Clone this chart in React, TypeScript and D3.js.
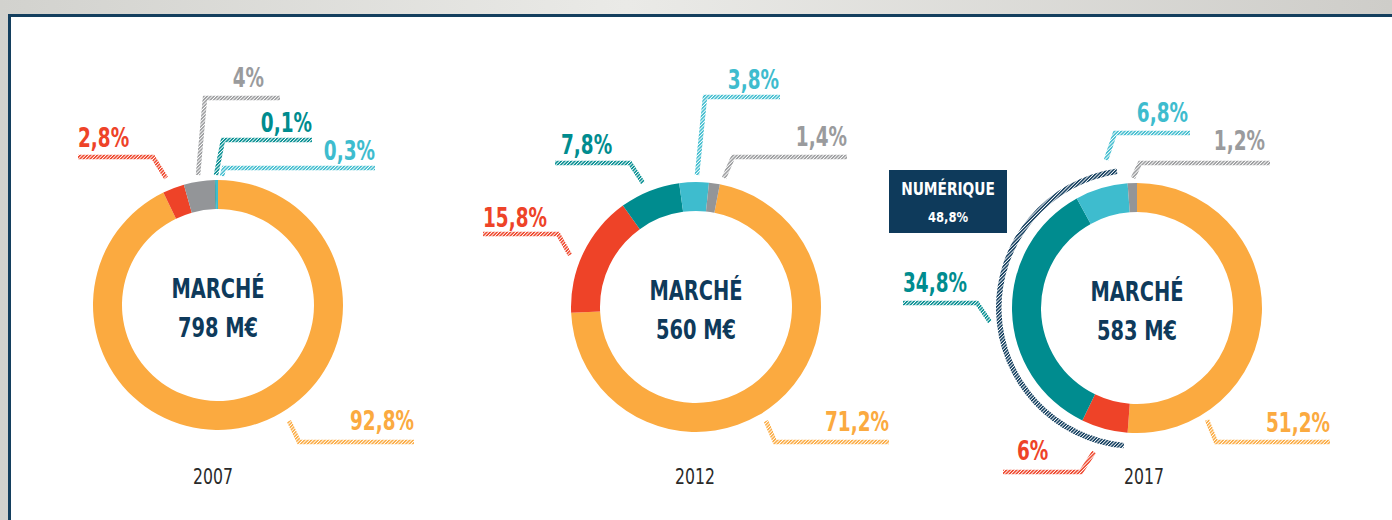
import React, { useEffect, useRef } from 'react';
import * as d3 from 'd3';

// chart data
const years = ['2007', '2012', '2017'];
const totals = ['798 M€', '560 M€', '583 M€'];
const categories = ['orange', 'red', 'teal', 'lightblue', 'gray'];
const values2007 = [92.8, 2.8, 0.1, 0.3, 4];
const values2012 = [71.2, 15.8, 7.8, 3.8, 1.4];
const values2017 = [51.2, 6, 34.8, 6.8, 1.2];
const sliceOrder2007 = ['orange', 'red', 'gray', 'teal', 'lightblue'];
const sliceOrder2012 = ['orange', 'red', 'teal', 'lightblue', 'gray'];
const sliceOrder2017 = ['orange', 'red', 'teal', 'lightblue', 'gray'];
const numeriqueLabel = 'NUMÉRIQUE';
const numeriqueValue = 48.8;

const colors: Record<string, string> = {
    orange: '#fbaa40',
    red: '#ee4328',
    teal: '#008c8f',
    lightblue: '#3ebcce',
    gray: '#939598',
};
const labelColors: Record<string, string> = { ...colors, gray: '#9a9b9d' };
const navy = '#0e3a5b';
const FONT = "'DejaVu Sans Condensed', 'DejaVu Sans', sans-serif";

// label layout, relative to each donut centre: tip, elbow, end of the leader, text position
type LabelPos = { tip: number[]; elbow: number[]; end: number; tx?: number; base: number };
const layouts: Record<string, LabelPos>[] = [
    {
        gray: { tip: [-20, -130], elbow: [-13, -207], end: 62, tx: 46, base: -218 },
        teal: { tip: [-2, -130], elbow: [5, -165], end: 94, base: -173 },
        lightblue: { tip: [4, -129], elbow: [6, -137], end: 157, base: -145 },
        red: { tip: [-52, -127], elbow: [-65, -148], end: -140, base: -158 },
        orange: { tip: [71, 116], elbow: [81, 137], end: 196, base: 125 },
    },
    {
        lightblue: { tip: [1, -132], elbow: [9, -210], end: 84, tx: 83, base: -218 },
        gray: { tip: [28, -129], elbow: [37, -150], end: 151, base: -161 },
        teal: { tip: [-53, -124], elbow: [-66, -144], end: -141, tx: -135, base: -153 },
        red: { tip: [-126, -52], elbow: [-138, -73], end: -213, base: -80 },
        orange: { tip: [70, 114], elbow: [79, 135], end: 193, base: 124 },
    },
    {
        lightblue: { tip: [-31, -148], elbow: [-22, -175], end: 53, tx: 51, base: -186 },
        gray: { tip: [-4, -130], elbow: [3, -145], end: 133, tx: 128, base: -158 },
        teal: { tip: [-147, 14], elbow: [-160, -5], end: -234, base: -16 },
        red: { tip: [-43, 144], elbow: [-56, 164], end: -134, tx: -120, base: 152 },
        orange: { tip: [70, 112], elbow: [79, 134], end: 193, base: 124 },
    },
];

const fmt = (v: number) => String(v).replace('.', ',') + '%';

function addText(g: any, x: number, y: number, str: string, o: any) {
    g.append('text')
        .attr('transform', `translate(${x},${y}) scale(${o.sx},1)`)
        .attr('text-anchor', o.anchor || 'middle')
        .attr('font-family', FONT)
        .attr('font-weight', o.weight || 'bold')
        .attr('font-size', o.size)
        .attr('fill', o.fill)
        .text(str);
}

export default function App() {
    const ref = useRef<SVGSVGElement>(null);

    useEffect(() => {
        const W = 1392;
        const H = 520;
        const svg = d3.select(ref.current);
        svg.selectAll('*').remove();

        const defs = svg.append('defs');
        const bg = defs.append('linearGradient').attr('id', 'bg');
        bg.append('stop').attr('offset', '0%').attr('stop-color', '#d2d2ce');
        bg.append('stop').attr('offset', '45%').attr('stop-color', '#eaeae7');
        bg.append('stop').attr('offset', '100%').attr('stop-color', '#cecdc9');

        // diagonal hatching used for the leader lines and the numérique bracket
        const hatchColors: Record<string, string> = { ...labelColors, navy };
        Object.entries(hatchColors).forEach(([k, c]) => {
            const p = defs
                .append('pattern')
                .attr('id', 'hatch-' + k)
                .attr('patternUnits', 'userSpaceOnUse')
                .attr('width', 2.4)
                .attr('height', 2.4)
                .attr('patternTransform', 'rotate(45)');
            p.append('rect').attr('width', 1.5).attr('height', 2.4).attr('fill', c);
        });

        svg.append('rect').attr('width', W).attr('height', H).attr('fill', 'url(#bg)');
        svg.append('rect')
            .attr('x', 9.5)
            .attr('y', 15.5)
            .attr('width', W + 20)
            .attr('height', H + 20)
            .attr('fill', '#fff')
            .attr('stroke', '#143f5e')
            .attr('stroke-width', 3);

        const datasets = [values2007, values2012, values2017];
        const orders = [sliceOrder2007, sliceOrder2012, sliceOrder2017];
        const centers = [
            [218, 305],
            [696, 307],
            [1137, 308],
        ];
        const offsets = [0, 11, 0];
        const rOuter = 125;
        const rInner = 96;
        const arc = d3.arc<any>().innerRadius(rInner).outerRadius(rOuter);

        datasets.forEach((vals, i) => {
            const [cx, cy] = centers[i];
            const g = svg.append('g').attr('transform', `translate(${cx},${cy})`);
            const rows = orders[i].map((k) => ({ key: k, v: vals[categories.indexOf(k)] }));
            const start = (offsets[i] * Math.PI) / 180;
            const pie = d3
                .pie<any>()
                .sort(null)
                .value((d) => d.v)
                .startAngle(start)
                .endAngle(start + 2 * Math.PI);
            const arcs = pie(rows);

            g.selectAll('path.slice')
                .data(arcs)
                .join('path')
                .attr('class', 'slice')
                .attr('d', arc)
                .attr('fill', (d) => colors[d.data.key]);

            // numérique bracket
            if (i === 2) {
                const red = arcs.find((a) => a.data.key === 'red')!;
                const lb = arcs.find((a) => a.data.key === 'lightblue')!;
                g.append('path')
                    .attr(
                        'd',
                        d3.arc()({
                            innerRadius: 135.5,
                            outerRadius: 141,
                            startAngle: red.startAngle + 0.02,
                            endAngle: lb.endAngle - 0.07,
                        } as any)
                    )
                    .attr('fill', 'url(#hatch-navy)');
                g.append('rect')
                    .attr('x', -248)
                    .attr('y', -138)
                    .attr('width', 118)
                    .attr('height', 63)
                    .attr('fill', navy);
                addText(g, -189, -113, numeriqueLabel, { size: 18, sx: 0.85, fill: '#fff' });
                addText(g, -189, -86, fmt(numeriqueValue), { size: 14, sx: 0.92, fill: '#fff' });
            }

            // leaders and labels
            rows.forEach((r) => {
                const L = layouts[i][r.key];
                const line = d3.line()([
                    [L.tip[0], L.tip[1]],
                    [L.elbow[0], L.elbow[1]],
                    [L.end, L.elbow[1]],
                ]);
                g.append('path')
                    .attr('d', line)
                    .attr('fill', 'none')
                    .attr('stroke', `url(#hatch-${r.key})`)
                    .attr('stroke-width', 4.5);
                const right = L.end > L.elbow[0];
                addText(g, L.tx ?? L.end, L.base, fmt(r.v), {
                    size: 27,
                    sx: 0.76,
                    anchor: right ? 'end' : 'start',
                    fill: labelColors[r.key],
                });
            });

            // centre text
            addText(g, 0, -7, 'MARCHÉ', { size: 27, sx: 0.8, fill: navy });
            addText(g, 0, 32, totals[i], { size: 27, sx: 0.8, fill: navy });

            addText(g, [-5, -1, 7][i], 484 - cy, years[i], {
                size: 21,
                sx: 0.83,
                weight: 'normal',
                fill: '#2a2a2a',
            });
        });
    }, []);

    return (
        <div style={{ position: 'fixed', left: 0, top: 0 }}>
            <svg ref={ref} width={1392} height={520} style={{ display: 'block' }} />
        </div>
    );
}
